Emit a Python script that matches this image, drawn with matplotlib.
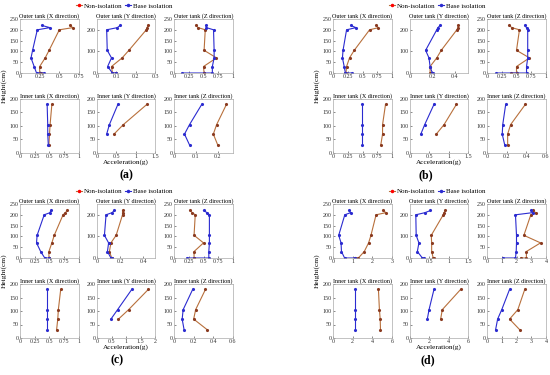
import numpy as np
import matplotlib
matplotlib.use("Agg")
import matplotlib.pyplot as plt
from matplotlib.ticker import FormatStrFormatter

plt.rcParams['font.family'] = ['Liberation Serif', 'DejaVu Serif']

# sensor heights (cm)
outer_h = [0, 0, 30, 70, 105, 200, 210, 220]
inner_h = [30, 70, 105, 180]
inner_h_y = [70, 105, 180]

# (a)
a_outer_x_ni = [0.27, 0.25, 0.25, 0.32, 0.37, 0.50, 0.67, 0.64]
a_outer_x_bi = [0.30, 0.21, 0.18, 0.14, 0.16, 0.22, 0.38, 0.28]
a_outer_y_ni = [0.10, 0.08, 0.075, 0.13, 0.165, 0.255, 0.26, 0.262]
a_outer_y_bi = [0.10, 0.08, 0.055, 0.075, 0.053, 0.05, 0.105, 0.12]
a_outer_z_ni = [0.51, 0.51, 0.50, 0.72, 0.51, 0.53, 0.41, 0.37]
a_outer_z_bi = [0.14, 0.65, 0.65, 0.68, 0.68, 0.67, 0.55, 0.54]
a_inner_x_ni = [0.49, 0.50, 0.51, 0.54]
a_inner_x_bi = [0.48, 0.47, 0.47, 0.46]
a_inner_y_ni = [0.44, 0.68, 1.29]
a_inner_y_bi = [0.25, 0.32, 0.54]
a_inner_z_ni = [0.20, 0.18, 0.195, 0.24]
a_inner_z_bi = [0.071, 0.048, 0.071, 0.127]

# (b)
b_outer_x_ni = [0.21, 0.22, 0.23, 0.28, 0.36, 0.62, 0.77, 0.73]
b_outer_x_bi = [0.33, 0.21, 0.19, 0.16, 0.17, 0.23, 0.39, 0.30]
b_outer_y_ni = [0.20, 0.18, 0.18, 0.24, 0.28, 0.42, 0.43, 0.43]
b_outer_y_bi = [0.21, 0.20, 0.18, 0.17, 0.14, 0.24, 0.25, 0.27]
b_outer_z_ni = [0.41, 0.50, 0.50, 0.72, 0.50, 0.55, 0.42, 0.38]
b_outer_z_bi = [0.16, 0.67, 0.67, 0.69, 0.69, 0.69, 0.67, 0.64]
b_inner_x_ni = [0.81, 0.84, 0.84, 0.89]
b_inner_x_bi = [0.49, 0.49, 0.49, 0.49]
b_inner_y_ni = [0.68, 0.88, 1.20]
b_inner_y_bi = [0.28, 0.38, 0.62]
b_inner_z_ni = [0.21, 0.21, 0.24, 0.39]
b_inner_z_bi = [0.18, 0.155, 0.16, 0.19]

# (c)
c_outer_x_ni = [0.49, 0.49, 0.49, 0.54, 0.58, 0.73, 0.77, 0.80]
c_outer_x_bi = [0.49, 0.42, 0.35, 0.28, 0.29, 0.41, 0.51, 0.52]
c_outer_y_ni = [0.12, 0.127, 0.107, 0.12, 0.165, 0.22, 0.22, 0.22]
c_outer_y_bi = [0.13, 0.12, 0.09, 0.10, 0.064, 0.078, 0.13, 0.15]
c_outer_z_ni = [0.34, 0.34, 0.34, 0.50, 0.34, 0.36, 0.31, 0.27]
c_outer_z_bi = [0.22, 0.59, 0.59, 0.60, 0.60, 0.60, 0.56, 0.50]
c_inner_x_ni = [0.62, 0.64, 0.65, 0.69]
c_inner_x_bi = [0.45, 0.45, 0.45, 0.45]
c_inner_y_ni = [0.74, 1.09, 1.77]
c_inner_y_bi = [0.48, 0.71, 1.20]
c_inner_z_ni = [0.34, 0.20, 0.22, 0.32]
c_inner_z_bi = [0.103, 0.083, 0.093, 0.19]

# (d)
d_outer_x_ni = [1.12, 1.29, 1.59, 1.81, 1.93, 2.19, 2.70, 2.53]
d_outer_x_bi = [1.12, 0.59, 0.43, 0.41, 0.29, 0.60, 0.90, 0.81]
d_outer_y_ni = [0.62, 0.60, 0.56, 0.56, 0.55, 0.86, 0.88, 0.91]
d_outer_y_bi = [0.35, 0.32, 0.19, 0.23, 0.16, 0.15, 0.39, 0.53]
d_outer_z_ni = [2.28, 2.67, 2.67, 3.63, 2.50, 2.97, 3.30, 3.10]
d_outer_z_bi = [1.07, 1.93, 1.98, 2.00, 2.00, 1.93, 3.10, 2.98]
d_inner_x_ni = [4.83, 4.80, 4.72, 4.62]
d_inner_x_bi = [2.2, 2.2, 2.2, 2.2]
d_inner_y_ni = [3.17, 3.34, 5.24]
d_inner_y_bi = [1.79, 1.97, 2.48]
d_inner_z_ni = [2.23, 1.53, 2.09, 2.56]
d_inner_z_bi = [0.58, 0.72, 1.00, 1.53]

titles = ['Outer tank (X direction)', 'Outer tank (Y direction)', 'Outer tank (Z direction)',
          'Inner tank (X direction)', 'Inner tank (Y direction)', 'Inner tank (Z direction)']

# x limits / ticks per panel, order: outer X, Y, Z, inner X, Y, Z
q = [0, 0.25, 0.5, 0.75, 1]
a_lims = [(0.75, [0, .25, .5, .75]), (0.3, [0, .1, .2, .3]), (1, q),
          (1, q), (1.5, [0, .5, 1, 1.5]), (0.27, [0, .1, .2])]
b_lims = [(1, q), (0.52, [0, .2, .4]), (1, q),
          (1, q), (1.5, [0, .5, 1, 1.5]), (0.6, [0, .2, .4, .6])]
c_lims = [(1, q), (0.5, [0, .2, .4]), (1, q),
          (1, q), (2, [0, .5, 1, 1.5, 2]), (0.6, [0, .2, .4, .6])]
d_lims = [(3, [0, 1, 2, 3]), (1.5, [0, .5, 1, 1.5]), (4, [0, 1, 2, 3, 4]),
          (6, [0, 2, 4, 6]), (6, [0, 2, 4, 6]), (4, [0, 1, 2, 3, 4])]

ni_col = '#b8703c'
bi_col = '#2b2bd0'

fig = plt.figure(figsize=(5.5, 3.75), dpi=100)
W, H = 550.0, 375.0


def px_axes(x0, y0, x1, y1):
    return fig.add_axes([x0 / W, 1 - y1 / H, (x1 - x0) / W, (y1 - y0) / H])


def draw_panel(dx, dy, label, label_x, series, lims):
    cols = [(20, 79), (97, 155), (174, 233)]
    rows = [(19, 73), (99, 153)]
    for k in range(6):
        r, c = divmod(k, 3)
        ax = px_axes(cols[c][0] + dx, rows[r][0] + dy, cols[c][1] + dx, rows[r][1] + dy)
        ni, bi = series[k]
        if r == 0:
            h = outer_h
        elif c == 1:
            h = inner_h_y
        else:
            h = inner_h
        ax.plot(ni, h, color=ni_col, lw=0.8, marker='.', ms=2.5, mfc='#8a3a20', mec='#8a3a20')
        ax.plot(bi, h, color=bi_col, lw=0.8, marker='.', ms=2.5)
        xmax, xt = lims[k]
        ax.set_xlim(0, xmax)
        ax.set_xticks(xt)
        ax.xaxis.set_major_formatter(FormatStrFormatter('%g'))
        if r == 0:
            ax.set_ylim(0, 250)
            ax.set_yticks([0, 100, 200] if c == 1 else [0, 50, 100, 150, 200, 250])
        else:
            ax.set_ylim(0, 200)
            ax.set_yticks([0, 50, 100, 150, 200])
        ax.set_title(titles[k], fontsize=4.4, pad=1)
        ax.tick_params(labelsize=4.3, length=1.2, width=0.4, pad=1, direction='in', colors='#333333')
        for s in ax.spines.values():
            s.set_color('#aaaaaa')
            s.set_linewidth(0.5)
    fig.text((dx + 4) / W, 1 - (dy + 86) / H, 'Height(cm)', rotation=90, fontsize=5.4,
             ha='center', va='center')
    fig.text((dx + 126) / W, 1 - (dy + 162) / H, 'Acceleration(g)', fontsize=5.2,
             ha='center', va='center')
    fig.text((label_x) / W, 1 - (dy + 175) / H, label, fontsize=8.5, fontweight='bold',
             ha='center', va='center')
    ly = 1 - (dy + 6) / H
    fig.legend(handles=[plt.Line2D([], [], color=ni_col, marker='.', ms=3, mfc='red', mec='red', lw=0.8),
                        plt.Line2D([], [], color=bi_col, marker='.', ms=3, lw=0.8)],
               labels=['Non-isolation', 'Base isolation'], loc='center',
               bbox_to_anchor=((dx + 124) / W, ly), ncol=2, fontsize=5.0, frameon=False,
               handlelength=0.9, handletextpad=0.2, columnspacing=0.4, borderpad=0)


draw_panel(0, 0, '(a)', 126,
           [(a_outer_x_ni, a_outer_x_bi), (a_outer_y_ni, a_outer_y_bi), (a_outer_z_ni, a_outer_z_bi),
            (a_inner_x_ni, a_inner_x_bi), (a_inner_y_ni, a_inner_y_bi), (a_inner_z_ni, a_inner_z_bi)],
           a_lims)
draw_panel(313, 0, '(b)', 426,
           [(b_outer_x_ni, b_outer_x_bi), (b_outer_y_ni, b_outer_y_bi), (b_outer_z_ni, b_outer_z_bi),
            (b_inner_x_ni, b_inner_x_bi), (b_inner_y_ni, b_inner_y_bi), (b_inner_z_ni, b_inner_z_bi)],
           b_lims)
draw_panel(0, 185, '(c)', 117,
           [(c_outer_x_ni, c_outer_x_bi), (c_outer_y_ni, c_outer_y_bi), (c_outer_z_ni, c_outer_z_bi),
            (c_inner_x_ni, c_inner_x_bi), (c_inner_y_ni, c_inner_y_bi), (c_inner_z_ni, c_inner_z_bi)],
           c_lims)
draw_panel(313, 185, '(d)', 428,
           [(d_outer_x_ni, d_outer_x_bi), (d_outer_y_ni, d_outer_y_bi), (d_outer_z_ni, d_outer_z_bi),
            (d_inner_x_ni, d_inner_x_bi), (d_inner_y_ni, d_inner_y_bi), (d_inner_z_ni, d_inner_z_bi)],
           d_lims)

fig.savefig('out.png', dpi=100)
